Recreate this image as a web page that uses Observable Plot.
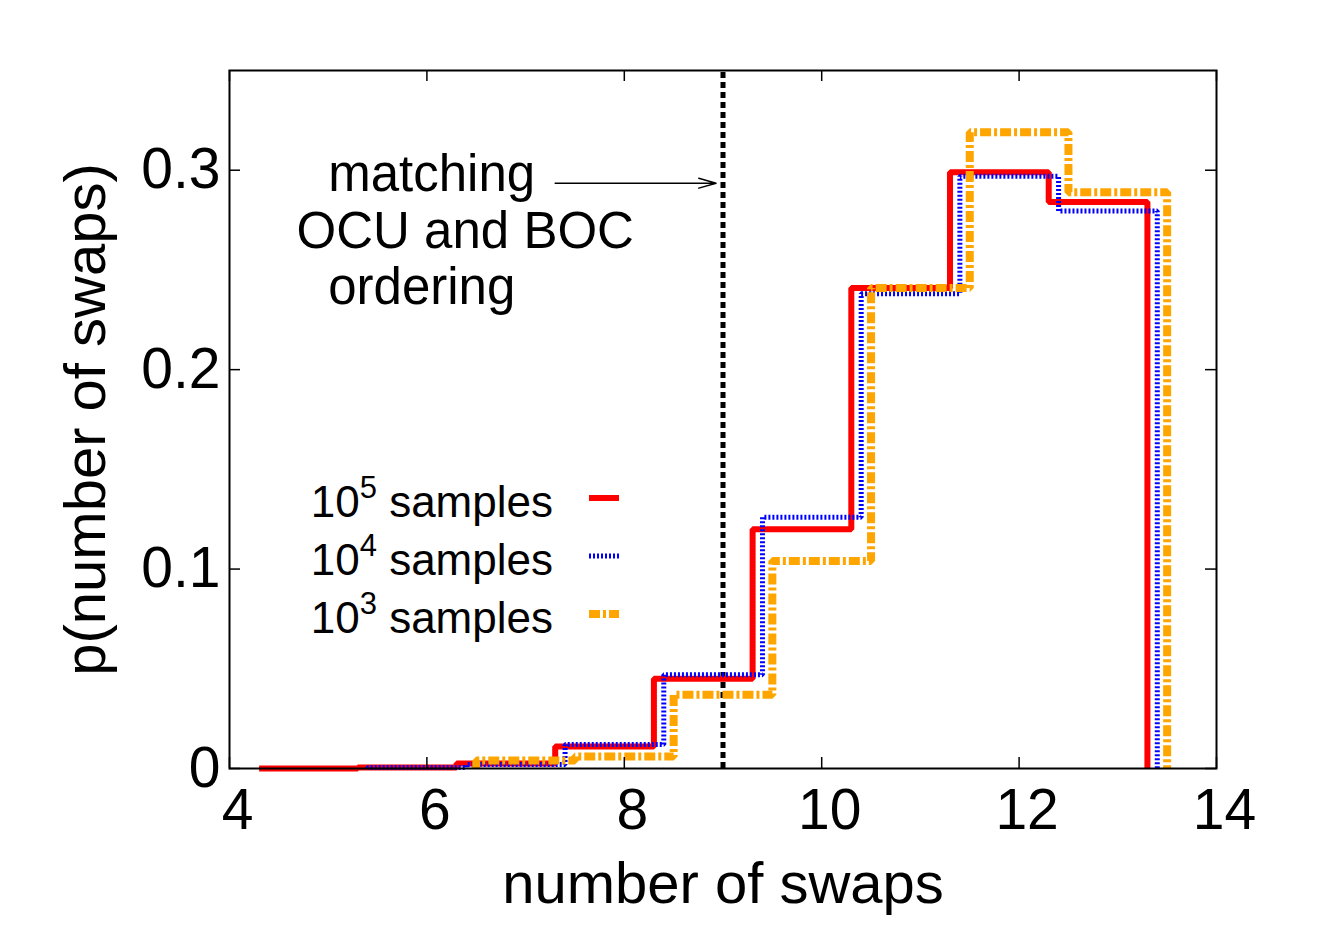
<!DOCTYPE html>
<html><head><meta charset="utf-8">
<script src="https://cdn.jsdelivr.net/npm/d3@7"></script>
<script src="https://cdn.jsdelivr.net/npm/@observablehq/plot@0.6"></script>
<style>
html,body{margin:0;padding:0;background:#fff;}
#chart{width:1323px;height:926px;}
</style></head><body><div id="chart"></div>
<script>
// ---- data ----
const swaps = [5, 6, 7, 8, 9, 10, 11, 12, 13];
const p1e5 = [0, 0.0005, 0.0025, 0.011, 0.045, 0.120, 0.241, 0.299, 0.284];
const p1e4 = [null, 0.0005, 0.002, 0.012, 0.047, 0.126, 0.238, 0.297, 0.2795];
const p1e3 = [null, null, 0.004, 0.006, 0.037, 0.104, 0.241, 0.319, 0.289];
const seriesExp = ["5", "4", "3"];
const seriesShift = [-0.2, -0.1, 0];   // horizontal offset of each histogram
const xTicks = [4, 6, 8, 10, 12, 14];
const yTicks = [0, 0.1, 0.2, 0.3];
const xLabel = "number of swaps";
const yLabel = "p(number of swaps)";
const markerX = 9;
const annotationLines = ["matching", "OCU and BOC", "ordering"];
const annotationX = [5.0, 4.68, 5.0];
const annotationY = [0.2895, 0.2612, 0.2327];
const arrowSpec = [{x1: 7.3, x2: 8.93, y: 0.2935}];

// ---- styles ----
const styles = [
  {stroke: "#ff0000", strokeWidth: 6, dash: null},
  {stroke: "#0000ff", strokeWidth: 5, dash: "2,2"},
  {stroke: "#ffa500", strokeWidth: 8, dash: "11,3,3,3"}
];
const W = 1323, H = 926;
const mL = 229, mR = 107, mT = 70, mB = 158;
const font = "Liberation Sans, Arial, Helvetica, sans-serif";
const yMax = 0.35;
const tickPx = 11;
const tickY = yMax * tickPx / (H - mT - mB);
const tickX = 10 * tickPx / (W - mL - mR);

function stepPoints(vals, shift) {
  const idx = vals.map((v, i) => i).filter(i => vals[i] != null);
  const first = idx[0], last = idx[idx.length - 1];
  const pts = [{x: swaps[first] - 0.5 + shift, y: 0}];
  for (const i of idx) pts.push({x: swaps[i] - 0.5 + shift, y: vals[i]});
  pts.push({x: swaps[last] + 0.5 + shift, y: vals[last]});
  pts.push({x: swaps[last] + 0.5 + shift, y: 0});
  return pts;
}
const series = [p1e5, p1e4, p1e3];

const annotations = annotationLines.map((t, i) => ({t, x: annotationX[i], y: annotationY[i]}));

const plot = Plot.plot({
  width: W, height: H,
  marginLeft: mL, marginRight: mR, marginTop: mT, marginBottom: mB,
  style: {fontFamily: font, background: "#fff", color: "#000"},
  x: {domain: [4, 14]},
  y: {domain: [0, yMax]},
  marks: [
    Plot.ruleX([markerX], {x: d => d, y1: 0, y2: yMax, stroke: "#000", strokeWidth: 5, strokeDasharray: "6,4"}),
    ...series.map((vals, k) => Plot.line(stepPoints(vals, seriesShift[k]), {
      x: "x", y: "y", curve: "step-after",
      stroke: styles[k].stroke, strokeWidth: styles[k].strokeWidth,
      strokeDasharray: styles[k].dash, strokeLinejoin: "miter", strokeLinecap: "butt"
    })),
    Plot.arrow(arrowSpec, {x1: "x1", x2: "x2", y1: "y", y2: "y", stroke: "#000", strokeWidth: 1.5, headLength: 18, headAngle: 32}),
    Plot.text(annotations, {x: "x", y: "y", text: "t", textAnchor: "start", lineAnchor: "bottom", fontSize: 51, fill: "#000"}),
    // inward ticks (all four sides)
    Plot.ruleX(xTicks, {x: d => d, y1: 0, y2: tickY, stroke: "#000", strokeWidth: 1.5}),
    Plot.ruleX(xTicks, {x: d => d, y1: yMax, y2: yMax - tickY, stroke: "#000", strokeWidth: 1.5}),
    Plot.ruleY(yTicks, {y: d => d, x1: 4, x2: 4 + tickX, stroke: "#000", strokeWidth: 1.5}),
    Plot.ruleY(yTicks, {y: d => d, x1: 14, x2: 14 - tickX, stroke: "#000", strokeWidth: 1.5}),
    Plot.axisX(xTicks, {tickSize: 0, tickPadding: 20, fontSize: 57, label: null, dx: 8}),
    Plot.axisY(yTicks, {tickSize: 0, tickPadding: 9, fontSize: 57, label: null, tickFormat: d => d === 0 ? "0" : d.toFixed(1)}),
    Plot.text([xLabel], {text: d => d, frameAnchor: "bottom", dy: 116, lineAnchor: "middle", textAnchor: "middle", fontSize: 58}),
    Plot.text([yLabel], {text: d => d, frameAnchor: "left", dx: -143, rotate: -90, lineAnchor: "middle", textAnchor: "middle", fontSize: 58}),
    Plot.frame({stroke: "#000", strokeWidth: 2})
  ]
});
document.getElementById("chart").appendChild(plot);

// ---- legend (inside the plot area, gnuplot style) ----
const svg = d3.select(plot);
const legRight = 553, legRow0 = 498, legStep = 58, lineX1 = 589, lineX2 = 619;
const g = svg.append("g").attr("font-family", font);
seriesExp.forEach((e, i) => {
  const cy = legRow0 + i * legStep;
  const t = g.append("text").attr("x", legRight).attr("y", cy + 19)
    .attr("text-anchor", "end").attr("font-size", 44).attr("fill", "#000");
  t.append("tspan").text("10");
  t.append("tspan").attr("dy", -19).attr("font-size", 31).text(e);
  t.append("tspan").attr("dy", 19).text(" samples");
  g.append("line").attr("x1", lineX1).attr("x2", lineX2).attr("y1", cy).attr("y2", cy)
    .attr("stroke", styles[i].stroke).attr("stroke-width", styles[i].strokeWidth)
    .attr("stroke-dasharray", styles[i].dash);
});
</script>
</body></html>
